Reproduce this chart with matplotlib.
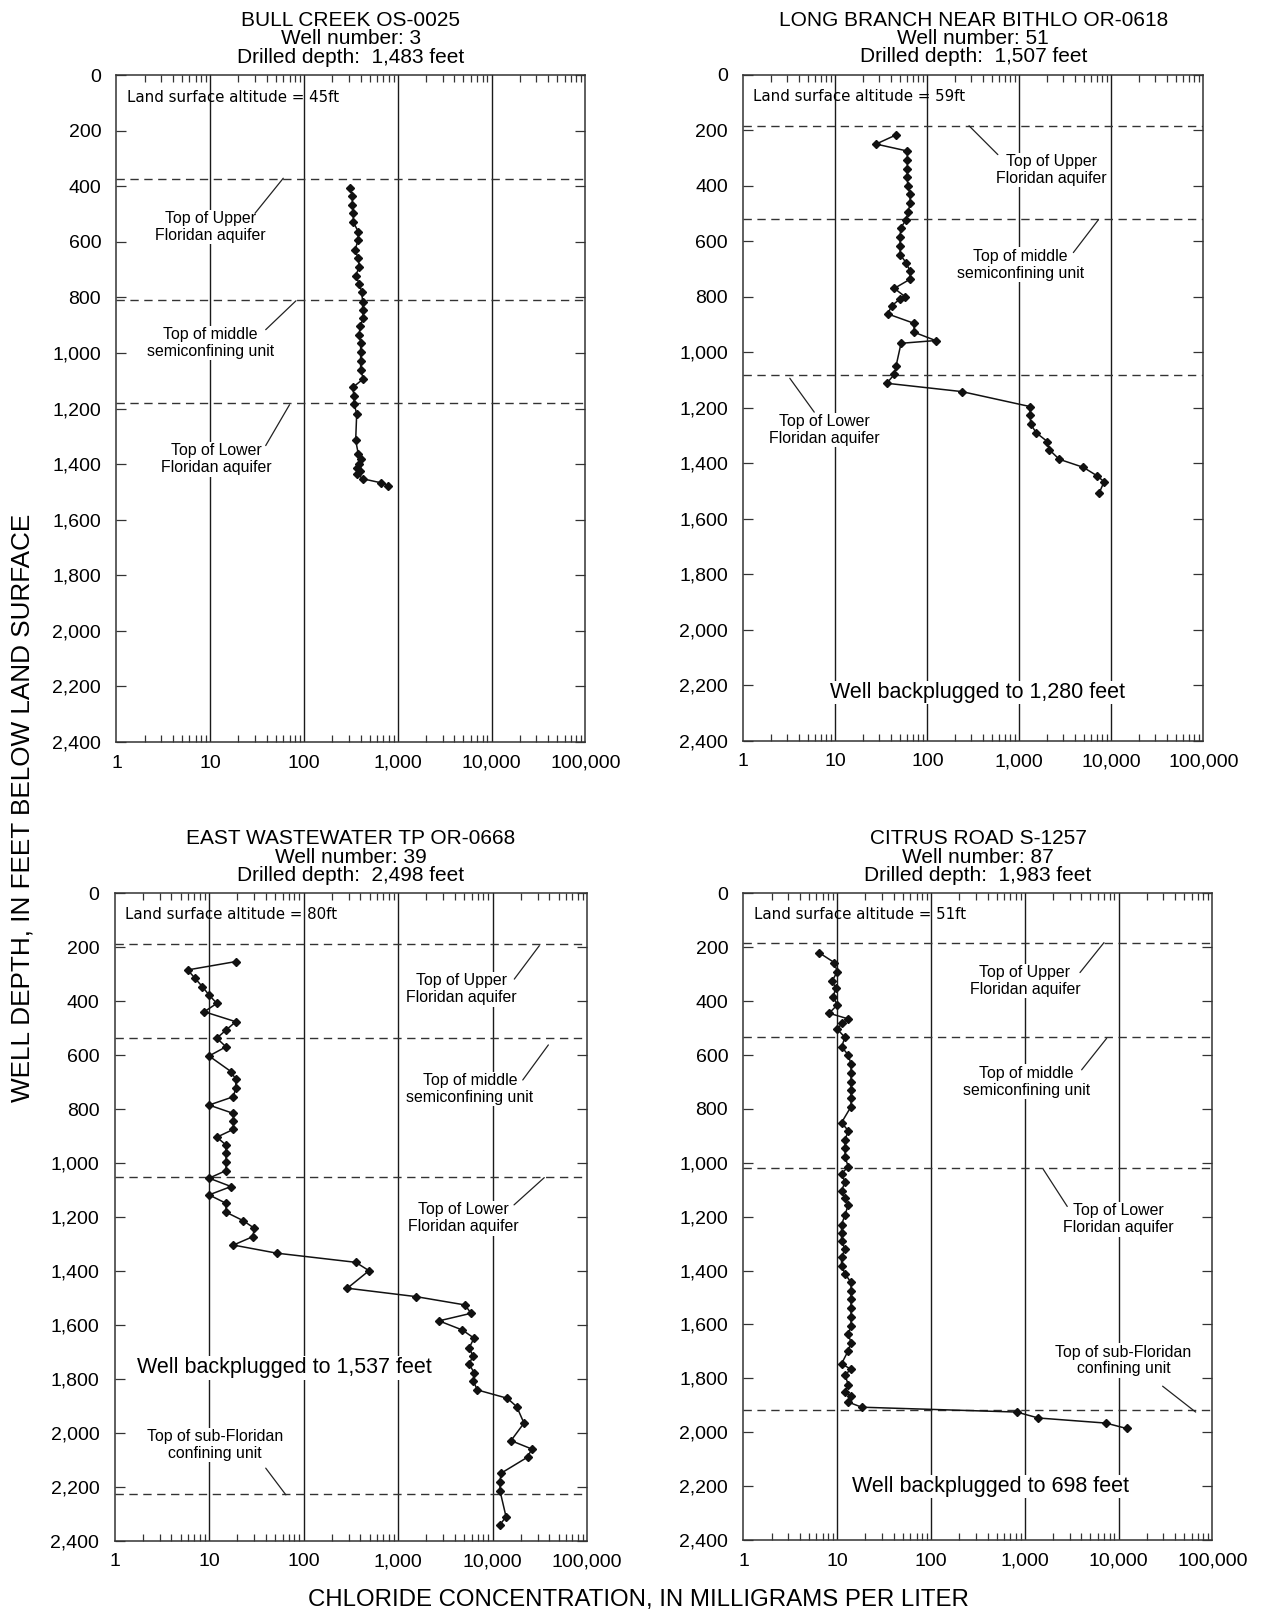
import matplotlib
matplotlib.use("Agg")
import matplotlib.pyplot as plt
from matplotlib.ticker import FixedLocator, FuncFormatter, LogLocator, NullFormatter

plt.rcParams['font.family'] = ['Liberation Sans', 'DejaVu Sans']

# Well 3 - Bull Creek OS-0025
bull_depth = [407, 435, 467, 497, 529, 563, 593, 629, 659, 689, 722, 751, 779, 815,
              844, 874, 904, 934, 964, 998, 1030, 1060, 1093, 1124, 1156, 1183, 1218,
              1314, 1362, 1383, 1401, 1413, 1425, 1437, 1453, 1467, 1477]
bull_cl = [308, 327, 327, 335, 335, 378, 378, 349, 378, 388, 355, 388, 411, 421,
           421, 428, 395, 388, 401, 401, 401, 401, 428, 330, 341, 341, 364,
           355, 378, 401, 388, 364, 395, 369, 428, 661, 790]
bull_tops = [374, 808, 1180]

# Well 51 - Long Branch near Bithlo OR-0618
long_depth = [216, 249, 274, 306, 339, 369, 400, 430, 462, 492, 521, 552, 584, 615,
              647, 676, 707, 736, 769, 799, 807, 832, 861, 895, 927, 957, 967, 1049,
              1079, 1111, 1141, 1195, 1225, 1258, 1289, 1321, 1351, 1385, 1414, 1445,
              1466, 1505]
long_cl = [45.7, 27.7, 60.6, 60.6, 60.6, 60.6, 61.2, 64.9, 64.9, 62.1, 58.7, 51.4,
           50.5, 50.5, 50.5, 58.7, 64.9, 64.9, 43.8, 57.3, 50.5, 41, 37.1, 71.7, 71.7,
           123, 51.8, 45.7, 43.8, 36.2, 237, 1307, 1307, 1330, 1520, 2015, 2120, 2720,
           4965, 7040, 8340, 7410]
long_tops = [183, 520, 1081]

# Well 39 - East Wastewater TP OR-0668
east_depth = [253, 284, 315, 346, 377, 408, 439, 476, 507, 537, 569, 603, 661, 690,
              720, 754, 785, 816, 844, 875, 904, 933, 964, 995, 1028, 1056, 1087, 1118,
              1149, 1182, 1214, 1242, 1273, 1304, 1334, 1368, 1399, 1464, 1495, 1526,
              1557, 1585, 1619, 1649, 1684, 1715, 1746, 1777, 1808, 1841, 1872, 1903,
              1964, 2029, 2060, 2090, 2150, 2181, 2215, 2311, 2341]
east_cl = [19.2, 5.95, 7.1, 8.5, 10, 12.1, 8.9, 19.2, 15.1, 12.1, 15.1, 10, 17.1, 19.2,
           19.2, 18.1, 10, 18.1, 18.1, 18.1, 12.1, 15.1, 15.1, 15.1, 15.1, 10, 17.1, 10,
           15.1, 15.1, 23.1, 30.2, 29, 18.1, 52, 357, 493, 291, 1540, 5120,
           5920, 2715, 4800, 6370, 5690, 6170, 5690, 6370, 6270, 6900, 14350, 18030,
           21540, 15700, 26000, 23560, 12300, 12000, 12000, 13900, 12000]
east_tops = [189, 535, 1050, 2228]

# Well 87 - Citrus Road S-1257
citrus_depth = [220, 257, 291, 324, 352, 384, 414, 445, 466, 482, 504, 535, 569, 600,
                633, 665, 699, 730, 760, 792, 851, 881, 915, 946, 979, 1014, 1041, 1072,
                1103, 1131, 1156, 1193, 1230, 1261, 1292, 1320, 1350, 1383, 1412, 1444,
                1474, 1506, 1539, 1573, 1605, 1635, 1667, 1697, 1746, 1766, 1787, 1824,
                1849, 1867, 1888, 1907, 1925, 1947, 1966, 1986]
citrus_cl = [6.38, 9.3, 10, 8.85, 9.6, 9.06, 10, 8.2, 13.1, 11.3, 10, 12.1, 11.1, 13.1,
             14, 14, 14, 14, 14, 14, 11.1, 13.1, 12.1, 12.1, 12.1, 13.1, 11.1, 12.1,
             11.1, 12.1, 13.1, 12.1, 11.1, 11.1, 11.1, 12.1, 11.1, 11.1, 12.1, 14,
             14, 14, 14, 14, 14, 13.1, 14, 13.1, 11.1, 14, 12.1, 13.1,
             12.1, 14, 13.1, 18.2, 818, 1390, 7320, 12170]
citrus_tops = [183, 534, 1019, 1917]

depth_ticks = list(range(0, 2401, 200))
conc_ticks = [1, 10, 100, 1000, 10000, 100000]

fig = plt.figure(figsize=(12.7, 16.16), dpi=100)


def make_panel(rect, title, altitude, depth, cl, tops):
    ax = fig.add_axes(rect)
    ax.set_xscale('log')
    ax.set_xlim(1, 100000)
    ax.set_ylim(2400, 0)
    for v in conc_ticks[1:-1]:
        ax.axvline(v, color='#1a1a1a', lw=1.0, zorder=1)
    for d in tops:
        ax.axhline(d, color='#333333', lw=1.0, ls=(0, (6, 4)), zorder=1)
    ax.plot(cl, depth, color='#111111', lw=1.1, marker='D', ms=4.2, zorder=3)

    ax.xaxis.set_major_locator(FixedLocator(conc_ticks))
    ax.xaxis.set_major_formatter(FuncFormatter(lambda v, p: f'{v:,.0f}'))
    ax.xaxis.set_minor_locator(LogLocator(base=10, subs=range(2, 10)))
    ax.xaxis.set_minor_formatter(NullFormatter())
    ax.yaxis.set_major_locator(FixedLocator(depth_ticks))
    ax.yaxis.set_major_formatter(FuncFormatter(lambda v, p: f'{v:,.0f}'))
    ax.tick_params(axis='x', which='major', length=0, pad=9, labelsize=14)
    ax.tick_params(axis='x', which='minor', direction='in', length=5,
                   top=True, bottom=True, width=0.9, color='#333333')
    ax.tick_params(axis='y', which='major', direction='in', length=7,
                   left=True, right=True, width=0.9, color='#333333', labelsize=14, pad=11)
    for s in ax.spines.values():
        s.set_color('#333333')
        s.set_linewidth(1.1)
    ax.set_title(title, fontsize=15, linespacing=0.95, pad=9)
    ax.text(0.022, 0.967, f'Land surface altitude = {altitude}ft', transform=ax.transAxes,
            fontsize=10.8, family='DejaVu Sans', va='center', ha='left', zorder=4)
    return ax


def label(ax, text, xy, start, end):
    ax.text(xy[0], xy[1], text, ha='center', va='center', fontsize=11.4,
            linespacing=1.15, zorder=4,
            bbox=dict(fc='white', ec='none', pad=1.0))
    ax.annotate('', xy=end, xytext=start,
                arrowprops=dict(arrowstyle='-', color='#222222', lw=0.9,
                                shrinkA=0, shrinkB=0), zorder=4)


def backplug(ax, text, xy):
    ax.text(xy[0], xy[1], text, ha='center', va='center', fontsize=15.5, zorder=4,
            bbox=dict(fc='white', ec='none', pad=1.0))


ax1 = make_panel([0.0917, 0.5408, 0.3693, 0.4127],
                 'BULL CREEK OS-0025\nWell number: 3\nDrilled depth:  1,483 feet',
                 45, bull_depth, bull_cl, bull_tops)
label(ax1, 'Top of Upper\nFloridan aquifer', (10, 546), (30, 497), (60, 371))
label(ax1, 'Top of middle\nsemiconfining unit', (10, 964), (39, 916), (82, 812))
label(ax1, 'Top of Lower\nFloridan aquifer', (11.6, 1382), (39, 1333), (70, 1186))

ax2 = make_panel([0.5853, 0.5415, 0.3622, 0.4121],
                 'LONG BRANCH NEAR BITHLO OR-0618\nWell number: 51\nDrilled depth:  1,507 feet',
                 59, long_depth, long_cl, long_tops)
label(ax2, 'Top of Upper\nFloridan aquifer', (2230, 342), (584, 287), (284, 183))
label(ax2, 'Top of middle\nsemiconfining unit', (1030, 684), (3865, 640), (7230, 522))
label(ax2, 'Top of Lower\nFloridan aquifer', (7.65, 1279), (5.9, 1215), (3.2, 1093))
backplug(ax2, 'Well backplugged to 1,280 feet', (348, 2226))

ax3 = make_panel([0.0902, 0.0466, 0.3720, 0.4006],
                 'EAST WASTEWATER TP OR-0668\nWell number: 39\nDrilled depth:  2,498 feet',
                 80, east_depth, east_cl, east_tops)
label(ax3, 'Top of Upper\nFloridan aquifer', (4720, 356), (17000, 318), (31300, 194))
label(ax3, 'Top of middle\nsemiconfining unit', (5780, 725), (20900, 692), (39000, 562))
label(ax3, 'Top of Lower\nFloridan aquifer', (4910, 1205), (16900, 1155), (35300, 1054))
label(ax3, 'Top of sub-Floridan\nconfining unit', (11.6, 2045), (39.8, 2131), (65, 2230))
backplug(ax3, 'Well backplugged to 1,537 feet', (62, 1759))

ax4 = make_panel([0.5854, 0.0470, 0.3693, 0.4002],
                 'CITRUS ROAD S-1257\nWell number: 87\nDrilled depth:  1,983 feet',
                 51, citrus_depth, citrus_cl, citrus_tops)
label(ax4, 'Top of Upper\nFloridan aquifer', (1000, 325), (3870, 294), (6970, 183))
label(ax4, 'Top of middle\nsemiconfining unit', (1045, 699), (4030, 655), (7450, 538))
label(ax4, 'Top of Lower\nFloridan aquifer', (9930, 1210), (2830, 1162), (1570, 1024))
label(ax4, 'Top of sub-Floridan\nconfining unit', (11270, 1734), (29400, 1829), (66200, 1925))
backplug(ax4, 'Well backplugged to 698 feet', (432, 2201))

fig.text(0.018, 0.5, 'WELL DEPTH, IN FEET BELOW LAND SURFACE', rotation=90,
         ha='center', va='center', fontsize=18.8)
fig.text(0.503, 0.0097, 'CHLORIDE CONCENTRATION, IN MILLIGRAMS PER LITER',
         ha='center', va='center', fontsize=17.3)

fig.savefig('out.png', dpi=100)
